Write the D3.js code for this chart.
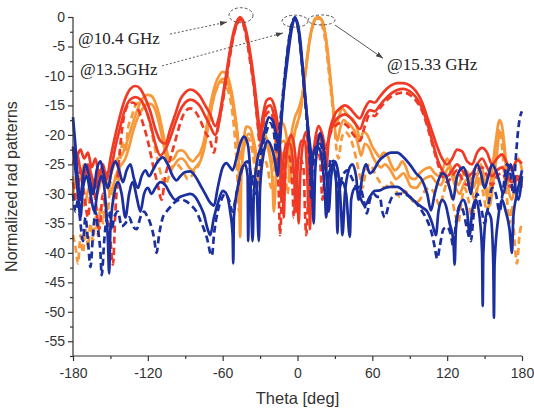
<html>
<head>
<style>
  body { margin: 0; background: #fff; }
</style>
</head>
<body>
<svg id="chart" width="534" height="412"></svg>
<script src="https://d3js.org/d3.v7.min.js" charset="utf-8"></script>
<script>
// axis ticks
const xTicks = [-180, -120, -60, 0, 60, 120, 180]
const yTicks = [0, -5, -10, -15, -20, -25, -30, -35, -40, -45, -50, -55]

// [theta (deg), normalized pattern (dB)]
const red1 = [[-180,-22],[-177,-23.5],[-174,-22.5],[-171,-24],[-168,-23],[-165,-25.5],[-162,-24],[-159,-27],[-156,-25],[-153,-27.5],[-150,-24],[-146,-20],[-142,-16.5],[-138,-13.8],[-134,-12.2],[-130,-11.7],[-126,-12.2],[-122,-13.8],[-118,-16],[-114,-19],[-110,-21],[-106,-21.5],[-102,-19],[-98,-16.5],[-94,-14],[-90,-12.8],[-86,-12.3],[-82,-12.6],[-78,-13.5],[-74,-15],[-70,-16.5],[-66,-18.5],[-63,-17],[-60,-13.5],[-57,-9.5],[-54,-5.5],[-51,-2.3],[-48,-0.5],[-46,0],[-44,-0.5],[-41,-2.5],[-38,-6],[-35,-10.5],[-32,-16],[-30,-19.5],[-28,-17],[-25,-14.2],[-22,-13.8],[-19,-14.8],[-16,-18],[-14,-22],[-12,-28],[-11,-34],[-10,-27],[-8,-22],[-5,-20],[-2,-23],[0,-30],[1,-35],[2,-28],[4,-22],[7,-19.5],[9,-24],[10,-36],[11,-28],[14,-21],[17,-18.5],[20,-20],[23,-22.5],[26,-19],[30,-16.5],[34,-15.5],[38,-15],[42,-15.5],[46,-16.5],[50,-17.2],[54,-15.5],[58,-14.3],[62,-14.5],[66,-13.5],[70,-12.5],[75,-11.6],[80,-11.2],[85,-11.2],[90,-11.6],[95,-12.6],[100,-14.5],[104,-17],[108,-19.5],[112,-22],[116,-24],[120,-25],[124,-24],[128,-22.5],[132,-22.8],[136,-24.5],[140,-25],[144,-23],[148,-22.2],[152,-23],[156,-25],[160,-24],[164,-23.3],[168,-24.8],[172,-26],[176,-24.3],[180,-24.8]]
const red2 = [[-180,-25],[-177,-23],[-174,-26],[-171,-27.5],[-168,-25],[-165,-27],[-162,-29],[-159,-26],[-156,-28],[-153,-26.5],[-150,-26],[-146,-22],[-142,-18.5],[-138,-15.5],[-134,-14],[-130,-13.6],[-126,-14],[-122,-15.5],[-118,-18],[-114,-21.5],[-110,-23.5],[-106,-22.5],[-102,-20.5],[-98,-18],[-94,-15.8],[-90,-14.5],[-86,-14],[-82,-14.3],[-78,-15.2],[-74,-16.8],[-70,-18.5],[-66,-20],[-63,-18],[-60,-14],[-57,-10],[-54,-6],[-51,-2.8],[-48,-0.8],[-46,-0.3],[-44,-0.8],[-41,-3],[-38,-6.8],[-35,-11.5],[-32,-17.5],[-30,-21],[-28,-18.5],[-25,-15.5],[-22,-15],[-19,-16.5],[-16,-20],[-14,-25],[-13,-31],[-12,-26],[-9,-21.5],[-6,-21.5],[-3,-26],[-1,-33],[0,-26],[3,-21],[6,-21],[8,-28],[9,-33],[11,-25],[14,-22],[17,-20],[20,-22],[23,-26],[25,-21],[29,-18],[33,-17],[38,-16.5],[42,-17],[46,-18],[50,-19],[54,-17],[58,-15.8],[62,-16],[66,-15],[70,-14],[75,-13],[80,-12.4],[85,-12.2],[90,-12.6],[95,-13.6],[100,-15.5],[104,-18],[108,-21],[112,-24],[116,-26],[120,-27],[124,-26],[128,-25],[132,-26],[136,-27],[140,-26.5],[144,-25],[148,-24],[152,-25.5],[156,-27],[160,-26],[164,-25.5],[168,-27],[172,-28],[176,-27],[180,-28]]
const red3 = [[-180,-28],[-177,-31],[-174,-26],[-171,-30],[-168,-34],[-165,-28],[-162,-31],[-159,-36],[-156,-30],[-153,-34],[-150,-38],[-148,-42],[-146,-33],[-143,-24],[-140,-18],[-136,-15],[-132,-14.5],[-128,-15.5],[-124,-18],[-120,-21],[-116,-25],[-112,-28.5],[-109,-31],[-106,-27],[-102,-24],[-98,-21],[-94,-18],[-90,-16],[-86,-15.5],[-82,-16],[-78,-17.5],[-74,-19.5],[-70,-21],[-67,-23],[-64,-19],[-60,-14.5],[-57,-10.5],[-54,-6.5],[-51,-3],[-48,-1],[-46,-0.5],[-44,-1],[-41,-3.5],[-38,-7.5],[-35,-12],[-32,-18],[-30,-22],[-28,-19],[-25,-16.5],[-22,-16],[-19,-18],[-17,-22],[-15,-30],[-14,-37],[-12,-27],[-9,-23],[-6,-24],[-4,-29],[-3,-34],[-1,-27],[2,-24],[5,-26],[6,-33],[7,-37],[9,-28],[12,-23],[15,-22],[18,-24],[20,-31],[22,-25],[26,-20],[30,-18.5],[35,-18],[40,-18.5],[45,-20],[50,-21],[54,-18.5],[58,-16.5],[62,-16.8],[66,-15.5],[70,-14.5],[75,-13.5],[80,-13],[85,-12.8],[90,-13.2],[95,-14.2],[100,-16],[104,-18.5],[108,-21.5],[112,-24.5],[116,-27],[120,-28],[124,-27],[128,-26],[132,-27.5],[136,-28.5],[140,-27.5],[144,-26],[148,-25.5],[152,-27],[156,-28.5],[160,-27],[164,-26.5],[168,-28],[172,-29],[176,-27.5],[180,-28.5]]

const blue1 = [[-180,-17],[-178,-22],[-176,-28],[-174,-31],[-172,-27],[-170,-25],[-167,-27],[-164,-30],[-161,-26],[-158,-24.5],[-155,-27],[-152,-29],[-149,-26],[-146,-24.5],[-143,-26],[-140,-28],[-137,-26],[-134,-25],[-131,-27.5],[-128,-29],[-125,-27],[-122,-26],[-119,-27],[-116,-26],[-112,-24.5],[-108,-23.8],[-104,-25],[-100,-27],[-97,-27.7],[-94,-27],[-90,-26.3],[-86,-26.2],[-82,-27],[-78,-28.5],[-74,-30],[-70,-31.5],[-67,-32],[-64,-29],[-60,-25.5],[-57,-24.8],[-54,-25.5],[-52,-26],[-49,-24],[-46,-21.5],[-43,-20.3],[-40,-21.5],[-38,-26],[-37,-33],[-36,-38],[-35,-30],[-32,-24],[-29,-22],[-26,-19],[-23,-17],[-20,-17.5],[-17,-20],[-15,-22],[-13,-17],[-11,-12.5],[-9,-9],[-7,-5.5],[-5,-2.5],[-3,-0.5],[-2,0],[-1,-0.5],[1,-2.5],[3,-6.5],[5,-11],[7,-15.5],[9,-20],[11,-24],[12,-30],[13,-35],[14,-27],[16,-22],[18,-19.7],[20,-21],[22,-24],[24,-29],[25,-33],[27,-27],[30,-24.5],[33,-27],[35,-33],[36,-37],[38,-30],[41,-26],[44,-25],[47,-27],[49,-31],[52,-27],[55,-25],[58,-26.5],[61,-26],[65,-24.5],[70,-23.5],[75,-23],[80,-23],[85,-23.8],[90,-25],[95,-26.5],[100,-27.7],[104,-30],[107,-32.8],[110,-30],[113,-27.7],[116,-26.5],[119,-27],[122,-29],[125,-31],[127,-28],[130,-26],[133,-25.5],[136,-27],[139,-30],[141,-27],[144,-25],[147,-26.5],[150,-29],[153,-27],[156,-25],[159,-26],[162,-28],[165,-30],[168,-27],[171,-25],[174,-28],[177,-31],[180,-27]]
const blue2 = [[-180,-22],[-178,-26],[-176,-30],[-174,-34],[-172,-29],[-169,-27],[-166,-30],[-163,-33],[-160,-29],[-157,-27],[-154,-31],[-152,-38],[-151,-43.5],[-150,-36],[-147,-30],[-144,-28],[-141,-30],[-138,-34],[-135,-30],[-132,-28],[-129,-30.5],[-126,-33],[-123,-30],[-120,-29],[-117,-30],[-114,-29],[-110,-28],[-106,-28.5],[-102,-30],[-98,-31],[-94,-30.5],[-90,-30.2],[-86,-30],[-82,-30.5],[-78,-32],[-75,-33.5],[-72,-36],[-70,-37],[-67,-34],[-63,-31],[-60,-29.5],[-57,-30],[-54,-33],[-52,-37],[-51.5,-41.8],[-51,-34],[-48,-29],[-45,-26],[-42,-25],[-40,-27],[-39.5,-38],[-39,-30],[-36,-27],[-33,-28],[-31,-38],[-30,-29],[-27,-23],[-24,-21],[-21,-22],[-18,-24.5],[-16,-27],[-14,-21],[-12,-15],[-10,-10],[-8,-6],[-6,-3],[-4,-1],[-2,-0.3],[0,-1],[2,-3.5],[4,-8],[6,-13],[8,-18],[10,-23],[11,-28],[12,-24],[15,-22],[18,-22.5],[20,-25],[22,-30],[23,-34],[25,-27],[28,-25],[31,-28],[32,-36.7],[33,-30],[36,-28],[39,-30],[42,-37.3],[43,-31],[46,-29],[50,-30.5],[54,-32],[58,-30.5],[62,-29.5],[66,-29.4],[70,-29],[75,-28.8],[80,-28.8],[85,-29.5],[90,-30.5],[95,-31.5],[100,-32.3],[104,-33],[108,-35],[111,-37],[113,-33],[116,-31],[119,-32],[122,-35],[125,-38],[126,-42],[127,-36],[130,-32],[133,-31],[136,-33],[138,-37],[140,-33],[143,-31],[146,-34],[148,-40],[148.5,-49],[149,-40],[152,-33],[155,-34],[157,-42],[157.5,-51],[158,-42],[161,-34],[164,-31],[167,-33],[170,-36],[172,-40],[173,-34],[176,-30],[178,-28],[180,-26]]
const blue3 = [[-180,-30],[-178,-33],[-176,-31],[-174,-35],[-172,-38],[-170,-34],[-168,-38],[-166,-42.4],[-164,-37],[-162,-33],[-160,-36],[-158,-40],[-157,-43.8],[-155,-38],[-153,-34],[-151,-33],[-149,-36.2],[-147,-34],[-144,-33],[-141,-35.5],[-138,-35],[-135,-34],[-132,-35.5],[-129,-36],[-126,-34],[-123,-33],[-121,-33.6],[-118,-35],[-115,-37.5],[-113,-40],[-111,-37],[-108,-34],[-105,-33],[-101,-32],[-97,-31.2],[-93,-31],[-89,-31.3],[-85,-32],[-81,-33],[-78,-34.5],[-75,-36],[-72,-38],[-70,-40],[-68.6,-40.5],[-67,-37],[-64,-33],[-61,-31],[-58,-30],[-55,-31],[-52,-33],[-49,-30],[-46,-27],[-43,-25],[-40,-24.5],[-37,-27],[-34,-30],[-31,-26],[-28,-22],[-25,-19.5],[-22,-18],[-19,-19.5],[-17,-23],[-15,-20],[-13,-16],[-11,-11.5],[-9,-7.5],[-7,-4],[-5,-1.5],[-3,-0.3],[-2,-0.2],[0,-1.5],[2,-4.5],[4,-9],[6,-14],[8,-19],[10,-25],[11,-31],[12,-26],[15,-23],[18,-21.5],[21,-23.5],[24,-27],[27,-24],[30,-25.5],[33,-29],[36,-27],[40,-26],[44,-27.5],[48,-29],[50,-28.8],[53,-31],[55.6,-33.3],[58,-31],[61,-30],[64,-30.5],[66,-30.5],[68,-33],[70,-34],[73,-32],[76,-30.5],[80,-30],[85,-30],[90,-30.5],[95,-31.5],[100,-33],[104,-34.5],[108,-37],[110,-39],[112,-41],[114,-39],[117,-36],[120,-35.6],[123,-37],[125,-39],[127,-35],[130,-32],[133,-33],[136,-36],[139,-38],[141,-34],[144,-30],[147,-32],[150,-35],[153,-32],[156,-29],[159,-30],[162,-33],[165,-29],[168,-25],[171,-27],[173,-30],[175,-24],[177,-19],[179,-16.5],[180,-16]]

const orange1 = [[-180,-27],[-177,-29],[-174,-27],[-171,-25],[-168,-27],[-165,-30],[-162,-28],[-159,-26],[-156,-27.5],[-153,-29],[-150,-27],[-147,-25],[-144,-24],[-141,-23.5],[-138,-22],[-135,-20],[-132,-18],[-128,-15.5],[-124,-13.8],[-120,-13.2],[-117,-13.4],[-114,-14.5],[-111,-16.5],[-108,-19.5],[-105,-22.5],[-102,-24.3],[-99,-24],[-96,-22.8],[-93,-22.6],[-90,-23],[-87,-24],[-84,-24.5],[-81,-23.8],[-78,-23],[-75,-21],[-72,-17.5],[-69,-14],[-66,-11.5],[-63,-10],[-60,-9.3],[-57,-9.6],[-54,-11.5],[-51,-15],[-48,-20],[-46,-24],[-44,-22],[-41,-18.6],[-38,-18.8],[-35,-21],[-32,-24],[-29,-21],[-26,-20],[-23,-22],[-20,-25],[-18,-22],[-15,-19],[-12,-18],[-9,-20],[-7,-24],[-5,-20],[-2,-17],[1,-15.5],[4,-13],[6,-10],[8,-6.5],[10,-3.5],[12,-1.5],[14,-0.3],[16.5,0],[19,-0.3],[21,-1.5],[23,-4],[25,-8],[27,-12],[29,-16],[31,-18.5],[33,-17],[36,-15.5],[39,-16.3],[42,-17],[45,-17.5],[48,-19],[50,-20.9],[53,-19.5],[56,-20],[60,-22],[63,-23],[66,-23.8],[69,-23],[72,-23.5],[75,-25],[78,-26],[81,-25.5],[84,-24.5],[87,-25.5],[90,-27.2],[94,-27.5],[98,-26.5],[102,-25.8],[106,-25.5],[110,-26.5],[114,-27],[117,-25.5],[120,-24],[123,-25.5],[126,-27],[129,-28.5],[132,-27],[135,-26],[138,-27],[141,-29],[144,-27],[147,-25],[150,-27.5],[153,-30],[156,-26],[159,-21],[162,-17.5],[164,-18.5],[166,-22],[168,-26],[171,-28],[174,-25],[177,-24],[180,-26]]
const orange2 = [[-180,-30],[-177,-27.5],[-174,-30],[-171,-32],[-168,-29.5],[-165,-28],[-162,-30.5],[-159,-29],[-156,-26.5],[-153,-28],[-150,-30],[-147,-28],[-144,-26],[-141,-25],[-138,-24],[-135,-22],[-132,-19.5],[-128,-17],[-124,-15.5],[-120,-14.7],[-117,-14.8],[-114,-15.8],[-111,-18],[-108,-21],[-105,-24],[-102,-25.5],[-99,-25.2],[-96,-24.3],[-93,-24],[-90,-24.5],[-87,-25.5],[-84,-26],[-81,-25.3],[-78,-24.5],[-75,-22.5],[-72,-19],[-69,-15.5],[-66,-12.8],[-63,-11.2],[-60,-10.5],[-57,-10.8],[-54,-12.5],[-51,-16],[-48,-21],[-47,-26],[-46,-37.3],[-45,-27],[-42,-21],[-39,-19.8],[-36,-21],[-33,-25],[-31,-28],[-28,-23],[-25,-22],[-22,-24],[-20,-28],[-19,-33],[-17,-26],[-14,-21.5],[-11,-21],[-8,-23],[-6,-28],[-4,-22],[-1,-18.5],[2,-16.5],[5,-12],[7,-8.5],[9,-5],[11,-2.5],[13,-1],[15,-0.3],[17.5,-0.2],[20,-0.8],[22,-2.5],[24,-5.5],[26,-9.5],[28,-14],[30,-19],[32,-21],[34,-19],[37,-17.5],[40,-18],[43,-18.5],[46,-19.5],[49,-22],[51,-23.5],[54,-21.5],[57,-22],[61,-24],[64,-25],[67,-25.5],[70,-25],[73,-25.5],[76,-26.5],[79,-27.5],[82,-27],[85,-26.5],[88,-27.5],[91,-28.8],[95,-29],[99,-28],[103,-27.3],[107,-27],[111,-28],[115,-28.5],[118,-27],[121,-25.5],[124,-27],[127,-29],[130,-30],[133,-28.5],[136,-27.5],[139,-29],[142,-31],[145,-28.5],[148,-27],[151,-29.5],[154,-32],[157,-28],[160,-23],[162,-19.5],[165,-21],[167,-25],[169,-29],[172,-31],[175,-28],[178,-27],[180,-29]]
const orange3 = [[-180,-37],[-178,-39],[-176,-41.8],[-174,-37],[-172,-40],[-170,-36],[-168,-39],[-166,-35],[-164,-38],[-162,-34],[-160,-37],[-158,-32],[-156,-35],[-154,-31],[-152,-33],[-150,-28],[-148,-31],[-146,-27],[-144,-29],[-142,-24],[-140,-21],[-138,-23],[-136,-19],[-133,-17],[-130,-15],[-127,-14.5],[-124,-14.8],[-121,-16],[-118,-18.5],[-115,-21.5],[-112,-24.5],[-109,-27],[-106,-28.5],[-103,-27],[-100,-25.5],[-97,-25],[-94,-25.5],[-91,-26.5],[-88,-27.5],[-85,-27],[-82,-26],[-79,-25],[-76,-23],[-73,-20],[-70,-16.5],[-67,-13.5],[-64,-11.8],[-61,-11],[-58,-11.2],[-55,-13],[-52,-16.5],[-50,-21],[-48,-28],[-47,-33],[-46,-27],[-43,-22],[-40,-20.5],[-37,-22],[-34,-26],[-32,-30],[-30,-26],[-27,-24],[-24,-25.5],[-21,-29],[-19,-26],[-16,-23],[-13,-23],[-10,-25.5],[-8,-30],[-6,-25],[-3,-20.5],[0,-18],[3,-15],[5,-11.5],[7,-8],[9,-5],[11,-2.5],[13,-1],[15,-0.2],[17,-0.2],[19,-1],[21,-2.5],[23,-5],[25,-9],[27,-13],[29,-17],[31,-22],[33,-24],[35,-21],[38,-19.5],[41,-20],[44,-21.5],[47,-24],[50,-27],[52,-29],[55,-26],[58,-25],[62,-26.5],[66,-28],[70,-29],[74,-28],[78,-29],[82,-30.5],[86,-29.5],[90,-30.5],[94,-31.5],[98,-31],[102,-29.5],[106,-29],[110,-30],[114,-32],[117,-30],[120,-28],[123,-30],[126,-33],[129,-35],[131,-32],[134,-29],[137,-31],[140,-34],[143,-30],[146,-27],[149,-30],[152,-33],[155,-29],[158,-25],[160,-21],[162,-19],[164,-22],[166,-27],[168,-31],[170,-35],[172,-32],[174,-38],[176,-41.8],[178,-37],[180,-35]]

// peak labels
const peakLabels = ["@10.4 GHz", "@13.5GHz", "@15.33 GHz"]
const peakTheta = [-45.3, -2, 19.3]

const margin = {top: 17, left: 73, right: 12, bottom: 56}
const W = 534, H = 412
const svg = d3.select("#chart")

const x = d3.scaleLinear().domain([-180, 180]).range([margin.left, W - margin.right])
const y = d3.scaleLinear().domain([-57.5, 0]).range([H - margin.bottom, margin.top])

const RED = "#ef3b26", ORANGE = "#f7993a", BLUE = "#1c2f9e"

let series = [
    {d: orange3, c: ORANGE, dash: true},
    {d: orange2, c: ORANGE},
    {d: orange1, c: ORANGE},
    {d: red3, c: RED, dash: true},
    {d: red2, c: RED},
    {d: red1, c: RED},
    {d: blue3, c: BLUE, dash: true},
    {d: blue2, c: BLUE},
    {d: blue1, c: BLUE}
]

let line = d3.line()
    .x(d => x(d[0]))
    .y(d => y(d[1]))
    .curve(d3.curveMonotoneX)

let plot = svg.append("g")
plot.selectAll("path").data(series).enter()
    .append("path")
    .attr("d", s => line(s.d))
    .attr("fill", "none")
    .attr("stroke", s => s.c)
    .attr("stroke-width", 2.7)
    .attr("stroke-linejoin", "round")
    .attr("stroke-dasharray", s => s.dash ? "7,4" : null)

// axes
let minorY = d3.range(-2.5, -58, -5)
let minorX = [-150, -90, -30, 30, 90, 150]

let yAxis = d3.axisLeft(y).tickValues(yTicks).tickFormat(d => String(d)).tickSize(5).tickPadding(3)
let gy = svg.append("g").attr("transform", `translate(${margin.left},0)`).call(yAxis)
svg.append("g").attr("transform", `translate(${margin.left},0)`)
    .call(d3.axisLeft(y).tickValues(minorY).tickFormat("").tickSize(3))
    .select(".domain").remove()

let xAxis = d3.axisBottom(x).tickValues(xTicks).tickFormat(d => String(d)).tickSize(5).tickPadding(7)
let gx = svg.append("g").attr("transform", `translate(0,${H - margin.bottom})`).call(xAxis)
svg.append("g").attr("transform", `translate(0,${H - margin.bottom})`)
    .call(d3.axisBottom(x).tickValues(minorX).tickFormat("").tickSize(3))
    .select(".domain").remove()

gy.select(".domain").attr("d", `M0,${y(0)}V${y(-57.5)}`)
gx.select(".domain").attr("d", `M${x(-180)},0H${x(180)}`)
svg.selectAll(".domain, .tick line").attr("stroke", "#333").attr("stroke-width", 1.2)
svg.selectAll(".tick text").attr("font-size", 14).attr("fill", "#333")
    .attr("font-family", "Liberation Sans, Arial, sans-serif")

svg.append("text")
    .attr("transform", `translate(17,${(y(0) + y(-57.5)) / 2}) rotate(-90)`)
    .attr("text-anchor", "middle")
    .attr("font-family", "Liberation Sans, Arial, sans-serif")
    .attr("font-size", 16).attr("fill", "#333")
    .text("Normalized rad patterns")

svg.append("text")
    .attr("x", x(0)).attr("y", 404)
    .attr("text-anchor", "middle")
    .attr("font-family", "Liberation Sans, Arial, sans-serif")
    .attr("font-size", 16.5).attr("fill", "#333")
    .text("Theta [deg]")

// annotations
let ann = svg.append("g")
let defs = svg.append("defs")
defs.append("marker").attr("id", "arr")
    .attr("viewBox", "0 0 10 10").attr("refX", 10).attr("refY", 5)
    .attr("markerWidth", 8).attr("markerHeight", 8).attr("orient", "auto")
    .append("path").attr("d", "M0,1.5L10,5L0,8.5Z").attr("fill", "#444")

let ellipses = [{t: peakTheta[0], v: 0.3, rx: 12, ry: 7.5},
                {t: peakTheta[1], v: -0.7, rx: 13, ry: 6},
                {t: peakTheta[2], v: -0.5, rx: 13.5, ry: 5}]
ann.selectAll("ellipse").data(ellipses).enter()
    .append("ellipse")
    .attr("cx", d => x(d.t)).attr("cy", d => y(d.v))
    .attr("rx", d => d.rx).attr("ry", d => d.ry)
    .attr("fill", "none").attr("stroke", "#444").attr("stroke-width", 0.9)
    .attr("stroke-dasharray", "3,2")

let arrows = [{a: [-102.2, -2.9], b: [-56.5, -0.85], dash: "2,2"},
              {a: [-108.6, -8.3], b: [-11.6, -2.7], dash: "2,2"},
              {a: [30.1, -1.36], b: [68.6, -7], dash: null}]
ann.selectAll("line").data(arrows).enter()
    .append("line")
    .attr("x1", d => x(d.a[0])).attr("y1", d => y(d.a[1]))
    .attr("x2", d => x(d.b[0])).attr("y2", d => y(d.b[1]))
    .attr("stroke", "#444").attr("stroke-width", 0.9)
    .attr("stroke-dasharray", d => d.dash)
    .attr("marker-end", "url(#arr)")

let labelPos = [[-176, -4.6], [-174.4, -9.85], [71.8, -9]]
ann.selectAll("text").data(peakLabels).enter()
    .append("text")
    .attr("x", (d, i) => x(labelPos[i][0]))
    .attr("y", (d, i) => y(labelPos[i][1]))
    .attr("font-family", "Liberation Serif, Times New Roman, serif")
    .attr("font-size", 17).attr("fill", "#222")
    .text(d => d)
</script>
</body>
</html>
